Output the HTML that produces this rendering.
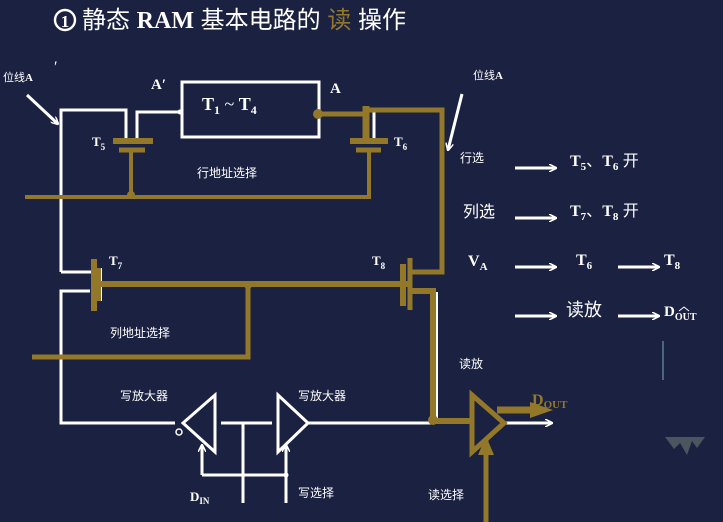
<!DOCTYPE html>
<html><head><meta charset="utf-8"><style>
html,body{margin:0;padding:0;background:#1b2140;}
svg{display:block}
text{font-family:"Liberation Serif","Noto Serif CJK SC",serif;fill:#fff}
.c{font-family:"Liberation Sans","Noto Sans CJK SC",sans-serif}
.b{font-weight:bold}
</style></head><body>
<svg width="723" height="522" viewBox="0 0 723 522" xmlns="http://www.w3.org/2000/svg">
<defs>
<marker id="wa" markerWidth="8" markerHeight="8" refX="7" refY="4" orient="auto" markerUnits="userSpaceOnUse"><path d="M0,0 L8,4 L0,8" fill="none" stroke="#fff" stroke-width="1.5"/></marker>
</defs>
<rect width="723" height="522" fill="#1b2140"/>
<!-- title -->
<circle cx="65" cy="20" r="10" fill="none" stroke="#fff" stroke-width="2.4"/>
<text x="65" y="27" text-anchor="middle" class="b" font-size="17">1</text>
<text x="82" y="28" font-size="24" class="c">静态 <tspan class="b" font-family="Liberation Serif">RAM</tspan> 基本电路的 <tspan fill="#93782a">读</tspan> 操作</text>

<g stroke="#fff" stroke-width="3" fill="none">
<rect x="182" y="82" width="137" height="55"/>
<polyline points="61,272 61,110 126,110 126,140"/>
<polyline points="137,140 137,112 180,112"/>
<line x1="61" y1="272" x2="92" y2="272"/>
<line x1="374" y1="112" x2="374" y2="140"/>
<polyline points="90,291 61,291 61,423 175,423"/>
<line x1="101" y1="268" x2="101" y2="301" stroke-width="2"/>
<line x1="437" y1="292" x2="437" y2="420" stroke-width="2"/>
<line x1="221" y1="423" x2="272" y2="423"/>
<line x1="243" y1="423" x2="243" y2="503"/>
<line x1="308" y1="423" x2="433" y2="423"/>
<polygon points="183,423 215,395 215,452"/>
<polygon points="278,395 278,452 308,423"/>
<line x1="202" y1="475" x2="286" y2="475"/>
<line x1="286" y1="475" x2="286" y2="503"/>
<line x1="202" y1="475" x2="202" y2="445" marker-end="url(#wa)"/>
<line x1="286" y1="475" x2="286" y2="445" marker-end="url(#wa)"/>
<line x1="505" y1="423" x2="552" y2="423" marker-end="url(#wa)"/>
<line x1="27" y1="95" x2="58" y2="124" marker-end="url(#wa)"/>
<line x1="462" y1="94" x2="448" y2="150" marker-end="url(#wa)"/>
<line x1="515" y1="168" x2="556" y2="168" marker-end="url(#wa)"/>
<line x1="515" y1="218" x2="556" y2="218" marker-end="url(#wa)"/>
<line x1="515" y1="267" x2="556" y2="267" marker-end="url(#wa)"/>
<line x1="618" y1="267" x2="659" y2="267" marker-end="url(#wa)"/>
<line x1="515" y1="316" x2="556" y2="316" marker-end="url(#wa)"/>
<line x1="618" y1="316" x2="659" y2="316" marker-end="url(#wa)"/>
</g>
<circle cx="179" cy="432" r="3" fill="none" stroke="#fff" stroke-width="1.5"/>
<circle cx="286" cy="475" r="2.5" fill="#fff"/>
<circle cx="180" cy="112" r="2.5" fill="#fff"/>

<g stroke="#93782a" fill="none" stroke-width="5">
<line x1="113" y1="141" x2="153" y2="141" stroke-width="6"/>
<line x1="119" y1="150" x2="145" y2="150" stroke-width="5"/>
<line x1="131" y1="150" x2="131" y2="197" stroke-width="4"/>
<polyline points="25,197 369,197 369,150" stroke-width="4"/>
<line x1="350" y1="141" x2="388" y2="141" stroke-width="6"/>
<line x1="356" y1="150" x2="381" y2="150" stroke-width="5"/>
<polyline points="318,114 365,114"/>
<line x1="366" y1="106" x2="366" y2="141" stroke-width="7"/>
<polyline points="368,110 442,110 442,272 410,272"/>
<line x1="94" y1="259" x2="94" y2="311" stroke-width="6"/>
<line x1="99" y1="268" x2="99" y2="301" stroke-width="4"/>
<line x1="100" y1="284" x2="408" y2="284" stroke-width="6"/>
<polyline points="248,284 248,357 32,357"/>
<line x1="403" y1="264" x2="403" y2="306" stroke-width="6"/>
<line x1="410" y1="258" x2="410" y2="310" stroke-width="5"/>
<polyline points="410,291 433,291 433,421 470,421" stroke-width="6"/>
<polygon points="472,395 472,452 504,423"/>
<line x1="486" y1="522" x2="486" y2="440"/>
<line x1="497" y1="410" x2="540" y2="410" stroke-width="7"/>
</g>
<circle cx="318" cy="114" r="5" fill="#93782a"/>
<circle cx="433" cy="420" r="5" fill="#93782a"/>
<circle cx="131" cy="195" r="4" fill="#93782a"/>
<circle cx="248" cy="285" r="4" fill="#93782a"/>
<polygon points="530,402 553,410 530,418" fill="#93782a"/>
<polygon points="478,455 486,436 494,455" fill="#93782a"/>

<text x="3" y="81" font-size="11" class="c">位线<tspan class="b" font-family="Liberation Serif">A</tspan></text>
<text x="54" y="72" font-size="16">′</text>
<text x="473" y="79" font-size="11" class="c">位线<tspan class="b" font-family="Liberation Serif">A</tspan></text>
<text x="151" y="89" font-size="15" class="b">A′</text>
<text x="330" y="93" font-size="15" class="b">A</text>
<text x="202" y="110" font-size="18" class="b">T<tspan font-size="12" dy="4">1</tspan><tspan dy="-4" font-weight="normal">  ~  </tspan>T<tspan font-size="12" dy="4">4</tspan></text>
<text x="92" y="146" font-size="13" class="b">T<tspan font-size="9" dy="4">5</tspan></text>
<text x="394" y="146" font-size="13" class="b">T<tspan font-size="9" dy="4">6</tspan></text>
<text x="109" y="265" font-size="13" class="b">T<tspan font-size="9" dy="4">7</tspan></text>
<text x="372" y="265" font-size="13" class="b">T<tspan font-size="9" dy="4">8</tspan></text>
<text x="197" y="177" font-size="12" class="c" fill="#dde">行地址选择</text>
<text x="110" y="337" font-size="12" class="c">列地址选择</text>
<text x="120" y="400" font-size="12" class="c">写放大器</text>
<text x="298" y="400" font-size="12" class="c">写放大器</text>
<text x="459" y="368" font-size="12" class="c">读放</text>
<text x="190" y="501" font-size="13" class="b">D<tspan font-size="9" dy="3">IN</tspan></text>
<text x="298" y="497" font-size="12" class="c">写选择</text>
<text x="428" y="499" font-size="12" class="c">读选择</text>
<text x="532" y="405" font-size="16" class="b" style="fill:#93782a">D<tspan font-size="11" dy="3">OUT</tspan></text>

<text x="460" y="162" font-size="12" class="c">行选</text>
<text x="570" y="166" font-size="16" class="b">T<tspan font-size="11" dy="4">5</tspan><tspan dy="-4" class="c" font-weight="normal">、</tspan>T<tspan font-size="11" dy="4">6</tspan><tspan dy="-4" class="c" font-weight="normal"> 开</tspan></text>
<text x="463" y="217" font-size="16" class="c">列选</text>
<text x="570" y="216" font-size="16" class="b">T<tspan font-size="11" dy="4">7</tspan><tspan dy="-4" class="c" font-weight="normal">、</tspan>T<tspan font-size="11" dy="4">8</tspan><tspan dy="-4" class="c" font-weight="normal"> 开</tspan></text>
<text x="468" y="266" font-size="16" class="b">V<tspan font-size="11" dy="4">A</tspan></text>
<text x="576" y="265" font-size="16" class="b">T<tspan font-size="11" dy="4">6</tspan></text>
<text x="664" y="265" font-size="16" class="b">T<tspan font-size="11" dy="4">8</tspan></text>
<text x="566" y="316" font-size="18" class="c">读放</text>
<text x="664" y="316" font-size="15" class="b">D<tspan font-size="10" dy="4">OUT</tspan></text>
<path d="M679,311 L684,307 L689,311" fill="none" stroke="#fff" stroke-width="1"/>
<line x1="663" y1="341" x2="663" y2="380" stroke="#7ab" stroke-width="1"/>
<polygon points="665,437 705,437 697,448 692,441 687,455 680,443 674,449" fill="#4a5560"/>
</svg>
</body></html>
